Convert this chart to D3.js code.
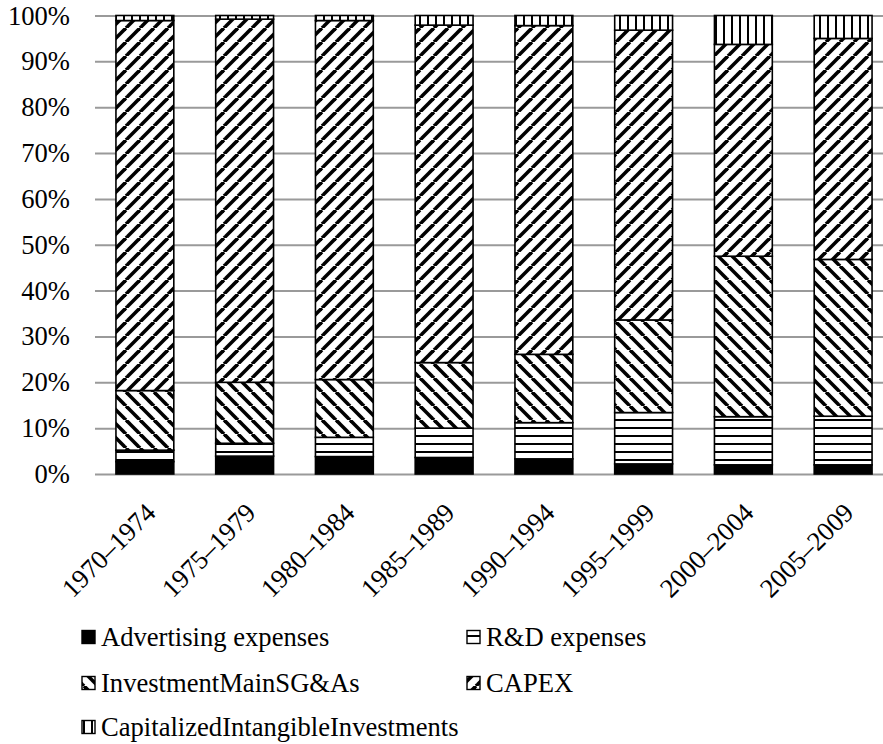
<!DOCTYPE html>
<html>
<head>
<meta charset="utf-8">
<script src="https://cdn.jsdelivr.net/npm/d3@7"></script>
<style>
  html, body { margin: 0; padding: 0; background: #fff; }
  #wrap { position: relative; width: 883px; height: 744px; overflow: hidden; }
  #wrap svg { position: absolute; left: 0; top: 0; }
  .lbl { position: absolute; font-family: "Liberation Serif", "Times New Roman", serif; font-size: 18px;
         color: #000; white-space: nowrap; line-height: 1; }
</style>
</head>
<body>
<div id="wrap"><svg id="chart" width="883" height="744"></svg></div>
<script>
const categories = ["1970–1974", "1975–1979", "1980–1984", "1985–1989", "1990–1994", "1995–1999", "2000–2004", "2005–2009"];
const advertising = [2.7, 3.9, 3.8, 3.6, 3.3, 2.2, 2.0, 2.0];
const rnd = [2.5, 2.8, 4.2, 6.4, 7.9, 11.2, 10.5, 10.6];
const sga = [13.0, 13.3, 12.6, 14.3, 14.9, 20.2, 35.0, 34.2];
const capex = [80.7, 79.2, 78.3, 73.6, 71.7, 63.2, 46.2, 48.2];
const cii = [1.1, 0.8, 1.1, 2.1, 2.2, 3.2, 6.3, 5.0];
const seriesNames = ["Advertising expenses", "R&D expenses", "InvestmentMainSG&As", "CAPEX", "CapitalizedIntangibleInvestments"];
const yTicks = [0, 0.1, 0.2, 0.3, 0.4, 0.5, 0.6, 0.7, 0.8, 0.9, 1.0];

const keys = ["adv", "rnd", "sga", "capex", "cii"];
const table = categories.map((c, i) => ({
  cat: c, adv: advertising[i], rnd: rnd[i], sga: sga[i], capex: capex[i], cii: cii[i]
}));

const W = 883;
const S = 26.6 / 18; // text scale factor
const wrap = d3.select("#wrap");
const svg = d3.select("#chart");

const defs = svg.append("defs");
function pat(id, size, draw) {
  const p = defs.append("pattern").attr("id", id).attr("patternUnits", "userSpaceOnUse")
    .attr("width", size[0]).attr("height", size[1]);
  p.append("rect").attr("width", size[0]).attr("height", size[1]).attr("fill", "#fff");
  draw(p);
}
pat("p-adv", [8, 8], p => p.select("rect").attr("fill", "#000"));
pat("p-rnd", [8, 8], p => p.append("rect").attr("x", 0).attr("y", 3).attr("width", 8).attr("height", 2).attr("fill", "#000"));
pat("p-sga", [14, 14], p => {
  [-14, 0, 14].forEach(dx =>
    p.append("line").attr("x1", dx).attr("y1", 0).attr("x2", dx + 14).attr("y2", 14)
      .attr("stroke", "#000").attr("stroke-width", 3.6));
});
pat("p-capex", [14, 14], p => {
  [-14, 0, 14].forEach(dx =>
    p.append("line").attr("x1", dx).attr("y1", 14).attr("x2", dx + 14).attr("y2", 0)
      .attr("stroke", "#000").attr("stroke-width", 3.6));
});
pat("p-cii", [8, 8], p => p.append("rect").attr("x", 3).attr("y", 0).attr("width", 2).attr("height", 8).attr("fill", "#000"));

const fills = { adv: "url(#p-adv)", rnd: "url(#p-rnd)", sga: "url(#p-sga)", capex: "url(#p-capex)", cii: "url(#p-cii)" };

const x = d3.scaleBand().domain(categories).range([95, 893]).paddingInner(0.42).paddingOuter(0.21);
const y = d3.scaleLinear().domain([0, 1]).range([474, 15.5]);

// Gridlines
const grid = svg.append("g").attr("transform", "translate(95,0)")
  .call(d3.axisLeft(y).tickValues(yTicks).tickSize(-(W - 95)).tickFormat(""));
grid.select(".domain").remove();
grid.selectAll(".tick line").attr("stroke", "#9a9a9a").attr("stroke-width", 2);

// Stacked bars
const layers = d3.stack().keys(keys).offset(d3.stackOffsetExpand)(table);
svg.append("g").selectAll("g").data(layers).join("g")
  .attr("fill", d => fills[d.key])
  .selectAll("rect").data(d => d).join("rect")
  .attr("x", d => x(d.data.cat))
  .attr("width", x.bandwidth())
  .attr("y", d => y(d[1]))
  .attr("height", d => y(d[0]) - y(d[1]))
  .attr("stroke", "#000").attr("stroke-width", 1.6);

// Y tick labels
const fmt = d3.format(".0%");
wrap.selectAll("div.ylbl").data(yTicks).join("div")
  .attr("class", "lbl ylbl")
  .style("right", (W - 70) + "px")
  .style("top", d => y(d) + "px")
  .style("transform-origin", "100% 50%")
  .style("transform", `translateY(-50%) scale(${S})`)
  .text(d => fmt(d));

// X tick labels, rotated -45deg
wrap.selectAll("div.xlbl").data(categories).join("div")
  .attr("class", "lbl xlbl")
  .style("left", d => (x(d) + x.bandwidth() / 2 + 6) + "px")
  .style("top", "508px")
  .style("transform-origin", "100% 50%")
  .style("transform", `translate(-100%, -50%) rotate(-45deg) scale(${S})`)
  .text(d => d);

// Legend
const legendItems = [
  { key: "adv", name: seriesNames[0], x: 82, y: 637 },
  { key: "rnd", name: seriesNames[1], x: 467, y: 637 },
  { key: "sga", name: seriesNames[2], x: 82, y: 683 },
  { key: "capex", name: seriesNames[3], x: 467, y: 683 },
  { key: "cii", name: seriesNames[4], x: 82, y: 727 }
];
svg.append("g").selectAll("rect").data(legendItems).join("rect")
  .attr("x", d => d.x).attr("y", d => d.y - 6.5).attr("width", 13).attr("height", 13)
  .attr("fill", d => fills[d.key]).attr("stroke", "#000").attr("stroke-width", 1.4);
wrap.selectAll("div.leg").data(legendItems).join("div")
  .attr("class", "lbl leg")
  .style("left", d => (d.x + 19) + "px")
  .style("top", d => d.y + "px")
  .style("transform-origin", "0% 50%")
  .style("transform", `translateY(-50%) scale(${S})`)
  .text(d => d.name);
</script>
</body>
</html>
